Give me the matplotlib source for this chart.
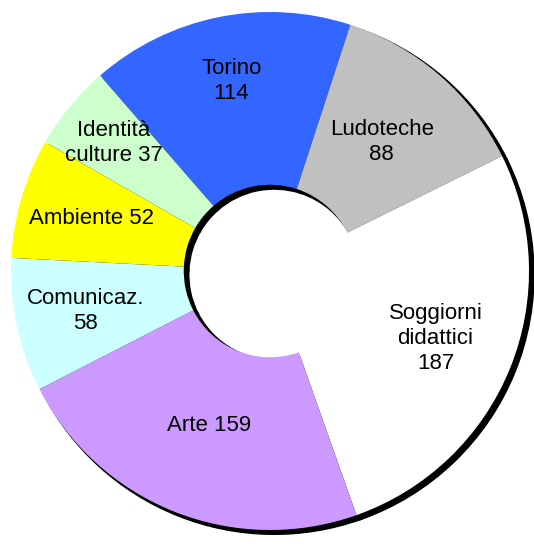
import numpy as np
import matplotlib
matplotlib.use('Agg')
import matplotlib.pyplot as plt

# data (clockwise from the top)
labels = ['Torino\n114', 'Ludoteche\n88', 'Soggiorni\ndidattici\n187', 'Arte 159',
          'Comunicaz.\n58', 'Ambiente 52', 'Identità\nculture 37']
values = [114, 88, 187, 159, 58, 52, 37]
colors = ['#3366FF', '#C0C0C0', '#FFFFFF', '#CC99FF', '#CCFFFF', '#FFFF00', '#CCFFCC']

# label distance from centre, per slice
label_r = [0.75, 0.66, 0.69, 0.64, 0.73, 0.72, 0.78]

start = 131
hole = 0.333
shadow_off = 0.021
shadow_dir = np.deg2rad(-40)

W, H = 534, 546
cx, cy, R = 270, 271, 259

fig = plt.figure(figsize=(W / 100, H / 100), dpi=100)
ax = fig.add_axes([0, 0, 1, 1])

# drop shadow, offset down-right
sx, sy = shadow_off * np.cos(shadow_dir), shadow_off * np.sin(shadow_dir)
ax.pie(values, colors=['black'] * len(values), startangle=start, counterclock=False,
       radius=1, center=(sx, sy), wedgeprops=dict(width=1 - hole, linewidth=2.2, edgecolor='black'))

wedges, _ = ax.pie(values, colors=colors, startangle=start, counterclock=False,
                   radius=1, wedgeprops=dict(width=1 - hole, linewidth=0))

for w, lab, r in zip(wedges, labels, label_r):
    mid = np.deg2rad((w.theta1 + w.theta2) / 2)
    ax.text(r * np.cos(mid), r * np.sin(mid), lab, ha='center', va='center',
            fontsize=16, family='Liberation Sans', linespacing=1.25, color='black')

ax.set_aspect('auto')
ax.set_xlim(-cx / R, (W - cx) / R)
ax.set_ylim(-(H - cy) / R, cy / R)
ax.axis('off')

fig.savefig('out.png', dpi=100, facecolor='white')
